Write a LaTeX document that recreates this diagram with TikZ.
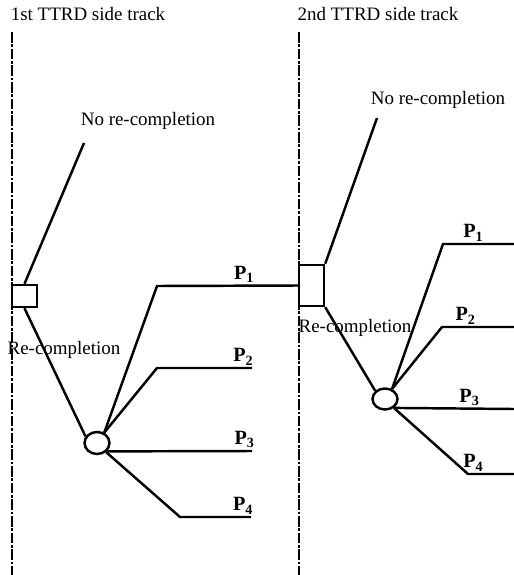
\documentclass[tikz,border=0pt]{standalone}
\usepackage{fontspec}
\setmainfont{Liberation Serif}
\usetikzlibrary{shapes.geometric,positioning}

\begin{document}
\begin{tikzpicture}[
  x=0.02cm, y=-0.02cm,
  font=\fontsize{10.8}{13}\selectfont,
  track/.style={line width=1.2pt, dash pattern=on 6pt off 1pt on 1.5pt off 1pt},
  decbox/.style={rectangle, draw, line width=1.4pt, minimum width=0.5cm, inner sep=0pt},
  chance/.style={ellipse, draw, line width=1.4pt, minimum width=0.5cm, inner sep=0pt},
  branch/.style={line width=1.4pt, line join=miter},
  plbl/.style={above, inner sep=1pt, font=\fontsize{11.5}{13}\selectfont\bfseries},
]
\useasboundingbox (0,0) rectangle (514,575);

% side tracks
\node (t1) at (88,14) {1st TTRD side track};
\node (t2) at (378,14) {2nd TTRD side track};
\coordinate (top1) at (12,32);
\coordinate (bot1) at (12,575);
\coordinate (top2) at (299,32);
\coordinate (bot2) at (299,575);
\draw[track] (top1) -- (bot1);
\draw[track] (top2) -- (bot2);

% first side track
\node[decbox, minimum height=0.44cm] (dec1) at (24.5,296) {};
\node[chance, minimum height=0.44cm] (ch1) at (97,443) {};
\node (no1) at (148,121) {No re-completion};
\node (re1) at (64,350) {Re-completion};
\coordinate (nr1) at (84,143);
\coordinate (b1) at (157,286);
\coordinate (b2) at (157,368);
\coordinate (e2) at (252,368);
\coordinate (e3) at (252,451);
\coordinate (b4) at (180,517);
\coordinate (e4) at (251,517);

% second side track
\node[decbox, minimum height=0.82cm] (dec2) at (311.5,285.5) {};
\node[chance, minimum height=0.42cm] (ch2) at (385,399) {};
\node (no2) at (438,100) {No re-completion};
\node (re2) at (355,328) {Re-completion};
\coordinate (nr2) at (377,118);
\coordinate (c1) at (443,244);
\coordinate (f1) at (514,244);
\coordinate (c2) at (442,327);
\coordinate (f2) at (514,327);
\coordinate (f3) at (514,409);
\coordinate (c4) at (468,474);
\coordinate (f4) at (514,474);

\draw[branch] (dec1.north) -- (nr1);
\draw[branch] (dec1.south) -- (ch1.150);
\draw[branch] (ch1.55) -- (b1) -- node[plbl, pos=0.62]{P\textsubscript{1}} (dec2.west);
\draw[branch] (ch1.55) -- (b2) -- node[plbl, pos=0.91]{P\textsubscript{2}} (e2);
\draw[branch] (ch1.-40) -- node[plbl, pos=0.95]{P\textsubscript{3}} (e3);
\draw[branch] (ch1.-45) -- (b4) -- node[plbl, pos=0.89]{P\textsubscript{4}} (e4);

\draw[branch] (dec2.north east) -- (nr2);
\draw[branch] (dec2.south east) -- (ch2.140);
\draw[branch] (ch2.55) -- (c1) -- node[plbl, pos=0.43]{P\textsubscript{1}} (f1);
\draw[branch] (ch2.55) -- (c2) -- node[plbl, pos=0.33]{P\textsubscript{2}} (f2);
\draw[branch] (ch2.-45) -- node[plbl, pos=0.63]{P\textsubscript{3}} (f3);
\draw[branch] (ch2.-45) -- (c4) -- node[plbl, pos=0.12]{P\textsubscript{4}} (f4);

\end{tikzpicture}
\end{document}
